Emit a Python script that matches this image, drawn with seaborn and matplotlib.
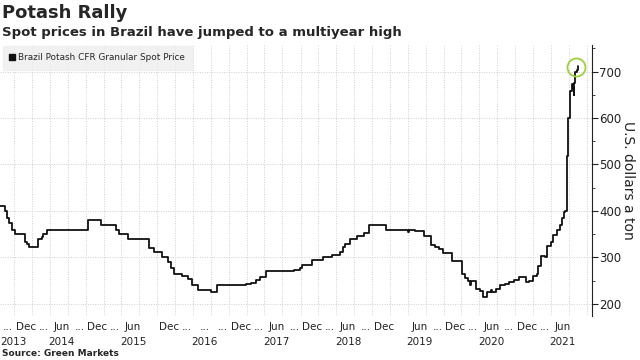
import matplotlib.pyplot as plt
import matplotlib.dates as mdates
import matplotlib.transforms as mtransforms
from matplotlib.lines import Line2D
from matplotlib.ticker import FixedFormatter, FixedLocator, MultipleLocator
import pandas as pd
import seaborn as sns

TITLE = "Potash Rally"
SUBTITLE = "Spot prices in Brazil have jumped to a multiyear high"
SOURCE = "Source: Green Markets"
SERIES_NAME = "Brazil Potash CFR Granular Spot Price"
Y_LABEL = "U.S. dollars a ton"

# price change points (value holds until the next date)
DATES = [
    "2013-06-21", "2013-07-14", "2013-07-28", "2013-08-08", "2013-08-20",
    "2013-09-05", "2013-10-25", "2013-11-08", "2013-11-15", "2014-01-03",
    "2014-01-20", "2014-01-27", "2014-02-15", "2014-09-13", "2014-11-18",
    "2015-02-05", "2015-02-18", "2015-04-03", "2015-07-20", "2015-08-15",
    "2015-09-25", "2015-10-08", "2015-10-26", "2015-11-08", "2015-11-25",
    "2016-01-05", "2016-02-05", "2016-02-25", "2016-03-27", "2016-05-30",
    "2016-07-01", "2016-11-28", "2016-12-22", "2017-01-18", "2017-02-07",
    "2017-03-10", "2017-07-30", "2017-08-28", "2017-09-10", "2017-10-30",
    "2017-12-25", "2018-02-09", "2018-03-21", "2018-04-05", "2018-04-16",
    "2018-05-10", "2018-06-18", "2018-07-20", "2018-08-15", "2018-11-12",
    "2019-03-03", "2019-03-10", "2019-04-08", "2019-05-22", "2019-06-27",
    "2019-07-19", "2019-08-10", "2019-08-29", "2019-10-12", "2019-12-04",
    "2019-12-18", "2020-01-01", "2020-01-13", "2020-01-18", "2020-02-13",
    "2020-03-03", "2020-03-20", "2020-04-10", "2020-04-28", "2020-05-06",
    "2020-05-25", "2020-06-16", "2020-07-11", "2020-07-30", "2020-08-25",
    "2020-09-20", "2020-10-21", "2020-10-25", "2020-11-10", "2020-12-01",
    "2020-12-18", "2020-12-28", "2021-01-08", "2021-01-28", "2021-02-08",
    "2021-03-01", "2021-03-12", "2021-04-01", "2021-04-16", "2021-04-28",
    "2021-05-05", "2021-05-14", "2021-05-20", "2021-05-26", "2021-05-29",
    "2021-06-05", "2021-06-15", "2021-06-21", "2021-06-25", "2021-06-28",
    "2021-07-03", "2021-07-12", "2021-07-20",
]
PRICES = [
    410, 400, 385, 375, 360,
    350, 333, 330, 322, 340,
    345, 350, 360, 380, 370,
    360, 350, 340, 320, 311,
    302, 300, 290, 277, 265,
    260, 254, 240, 230, 226,
    240, 243, 246, 251, 257,
    270, 274, 278, 284, 295,
    300, 305, 311, 322, 330,
    339, 346, 352, 370, 360,
    355, 360, 356, 346, 326,
    322, 319, 310, 293, 265,
    255, 250, 240, 250, 233,
    228, 215, 226, 230, 226,
    233, 240, 242, 247, 252,
    257, 258, 247, 250, 260,
    264, 282, 304, 301, 325,
    333, 348, 359, 370, 385,
    398, 400, 519, 521, 600,
    657, 673, 665, 650, 676,
    700, 704, 711,
]

TICK_DATES = pd.date_range("2013-09-01", "2021-09-01", freq="3MS")
TICK_LABELS = [
    "...", "Dec", "...", "Jun", "...", "Dec", "...", "Jun",
    "", "Dec", "...", "...", "...", "Dec", "...", "Jun",
    "...", "Dec", "...", "Jun", "...", "Dec", "", "Jun",
    "...", "Dec", "...", "Jun", "...", "Dec", "...", "Jun",
    "",
]
YEAR_DATES = ["2013-09-01", "2014-06-01", "2015-06-01", "2016-06-01",
              "2017-06-01", "2018-06-01", "2019-06-01", "2020-06-01",
              "2021-06-01"]
YEAR_LABELS = ["2013", "2014", "2015", "2016", "2017", "2018", "2019",
               "2020", "2021"]
Y_TICKS = [200, 300, 400, 500, 600, 700]

sns.set_theme(style="white")
plt.rcParams["font.family"] = ["DejaVu Sans"]

df = pd.DataFrame({"date": pd.to_datetime(DATES), "price": PRICES})

fig = plt.figure(figsize=(6.4, 3.6), dpi=100)
ax = fig.add_axes([0.0, 0.122, 0.925, 0.753])

sns.lineplot(data=df, x="date", y="price", color="#111111", linewidth=1.3,
             drawstyle="steps-post", ax=ax)

last = df.iloc[-1]
ax.plot(last["date"] - pd.Timedelta(days=14), last["price"] - 2, marker="o",
        markersize=13, markerfacecolor="none", markeredgecolor="#9fcf3a",
        markeredgewidth=1.3, zorder=5)

ax.set_xlim(mdates.date2num(pd.Timestamp("2013-06-21")),
            mdates.date2num(pd.Timestamp("2021-09-27")))
ax.set_ylim(174, 757)

ax.yaxis.tick_right()
ax.yaxis.set_label_position("right")
ax.set_yticks(Y_TICKS)
ax.yaxis.set_minor_locator(MultipleLocator(50))
ax.tick_params(axis="y", which="major", direction="out", length=4, width=0.8,
               colors="#222222", labelsize=8.5, pad=1, right=True)
ax.tick_params(axis="y", which="minor", direction="out", length=2.5, width=0.6,
               color="#222222", right=True)
ax.set_ylabel(Y_LABEL, rotation=-90, labelpad=10, fontsize=10, color="#222222")

# month labels on the major ticks, year labels on a second row (minor ticks)
ax.xaxis.remove_overlapping_locs = False
ax.xaxis.set_major_locator(FixedLocator(mdates.date2num(TICK_DATES)))
ax.xaxis.set_major_formatter(FixedFormatter(TICK_LABELS))
ax.xaxis.set_minor_locator(FixedLocator(mdates.date2num(pd.to_datetime(YEAR_DATES))))
ax.xaxis.set_minor_formatter(FixedFormatter(YEAR_LABELS))
ax.tick_params(axis="x", which="major", length=0, labelsize=7.5, colors="#222222", pad=4)
ax.tick_params(axis="x", which="minor", length=0, labelsize=7.5, colors="#222222", pad=15)

shift = mtransforms.ScaledTranslation(-6 / 100, 0, fig.dpi_scale_trans)
first_shift = mtransforms.ScaledTranslation(-11 / 100, 0, fig.dpi_scale_trans)
year_first_shift = mtransforms.ScaledTranslation(-14 / 100, 0, fig.dpi_scale_trans)
for i, lbl in enumerate(ax.get_xticklabels()):
    if i == 0:
        lbl.set_horizontalalignment("left")
        lbl.set_transform(lbl.get_transform() + first_shift)
    else:
        lbl.set_transform(lbl.get_transform() + shift)
for i, lbl in enumerate(ax.get_xticklabels(minor=True)):
    if i == 0:
        lbl.set_horizontalalignment("left")
        lbl.set_transform(lbl.get_transform() + year_first_shift)
    else:
        lbl.set_transform(lbl.get_transform() + shift)

ax.grid(True, axis="both", which="major", color="#cfcfcf",
        linestyle=(0, (1, 1.5)), linewidth=0.7)
ax.set_xlabel("")

for side in ["left", "top", "bottom"]:
    ax.spines[side].set_visible(False)
ax.spines["right"].set_color("#222222")
ax.spines["right"].set_linewidth(0.8)

handle = Line2D([], [], color="#111111", marker="s", linestyle="none", markersize=5)
leg = ax.legend([handle], [SERIES_NAME], loc="upper left",
                bbox_to_anchor=(0.0, 1.005), frameon=True, fontsize=6.4,
                handlelength=0.6, handletextpad=0.3, borderpad=0.8,
                borderaxespad=0.3, fancybox=False)
leg.get_frame().set_facecolor("#eeeeee")
leg.get_frame().set_edgecolor("#eeeeee")

fig.text(0.003, 0.95, TITLE, fontsize=13, fontweight="bold", va="baseline")
fig.text(0.003, 0.9, SUBTITLE, fontsize=9.5, fontweight="bold", va="baseline")
fig.text(0.003, 0.012, SOURCE, fontsize=6.5, fontweight="bold", va="baseline")

fig.savefig("out.png", dpi=100)
